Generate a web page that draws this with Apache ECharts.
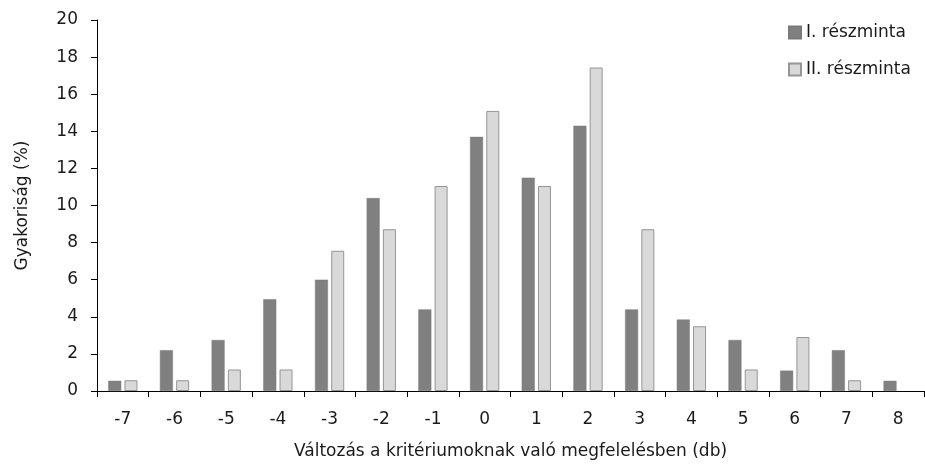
<!DOCTYPE html>
<html>
<head>
<meta charset="utf-8">
<script src="https://cdn.jsdelivr.net/npm/echarts@6/dist/echarts.min.js"></script>
<style>
	html, body { margin: 0; padding: 0; background: #fff; }
	#main { width: 925px; height: 464px; }
</style>
</head>
<body>
<div id="main"></div>
<script>
const categories = ['-7', '-6', '-5', '-4', '-3', '-2', '-1', '0', '1', '2', '3', '4', '5', '6', '7', '8'];
const seriesNames = ['I. részminta', 'II. részminta'];
const sample1 = [0.55, 2.2, 2.75, 4.95, 6.0, 10.4, 4.4, 13.7, 11.5, 14.3, 4.4, 3.85, 2.75, 1.1, 2.2, 0.55];
// the 8 category has no bar for the second sample
const sample2 = [0.58, 0.58, 1.16, 1.16, 7.56, 8.72, 11.05, 15.1, 11.05, 17.44, 8.72, 3.49, 1.16, 2.91, 0.58, null];
const yTicks = { min: 0, max: 20, interval: 2 };

const font = 'DejaVu Sans';
const fontSize = 17;
const textColor = '#1a1a1a';

const myChart = echarts.init(document.getElementById('main'));

const option = {
	animation: false,
	backgroundColor: '#fff',
	textStyle: { fontFamily: font, color: textColor },
	legend: {
		orient: 'vertical',
		left: 783,
		top: 19,
		icon: 'rect',
		itemWidth: 12,
		itemHeight: 12,
		itemGap: 20,
		textStyle: { fontFamily: font, fontSize: fontSize, color: textColor },
		data: seriesNames
	},
	grid: {
		left: 97,
		right: 1,
		top: 20,
		bottom: 73,
		containLabel: false,
		outerBoundsMode: 'none'
	},
	xAxis: {
		type: 'category',
		data: categories,
		name: 'Változás a kritériumoknak való megfelelésben (db)',
		nameLocation: 'middle',
		nameGap: 52,
		nameTextStyle: { fontFamily: font, fontSize: fontSize, color: textColor, verticalAlign: 'top' },
		axisLine: { lineStyle: { color: '#000', width: 1 } },
		axisTick: { show: true, length: 6, inside: false, lineStyle: { color: '#000' } },
		axisLabel: { margin: 20, fontFamily: font, fontSize: fontSize, color: textColor },
		splitLine: { show: false }
	},
	yAxis: {
		type: 'value',
		min: yTicks.min,
		max: yTicks.max,
		interval: yTicks.interval,
		name: 'Gyakoriság (%)',
		nameLocation: 'middle',
		nameGap: 66,
		nameTextStyle: { fontFamily: font, fontSize: fontSize, color: textColor },
		axisLine: { show: true, lineStyle: { color: '#000', width: 1 } },
		axisTick: { show: true, length: 6, inside: false, lineStyle: { color: '#000' } },
		axisLabel: { margin: 19, fontFamily: font, fontSize: fontSize, color: textColor },
		splitLine: { show: false }
	},
	series: [
		{
			name: seriesNames[0],
			type: 'bar',
			data: sample1,
			barWidth: 13,
			barGap: '25%',
			itemStyle: { color: '#808080', borderColor: '#7a7a7a', borderWidth: 0.5 }
		},
		{
			name: seriesNames[1],
			type: 'bar',
			data: sample2,
			barWidth: 13,
			itemStyle: { color: '#d9d9d9', borderColor: '#969696', borderWidth: 1 }
		}
	]
};

myChart.setOption(option);
</script>
</body>
</html>
